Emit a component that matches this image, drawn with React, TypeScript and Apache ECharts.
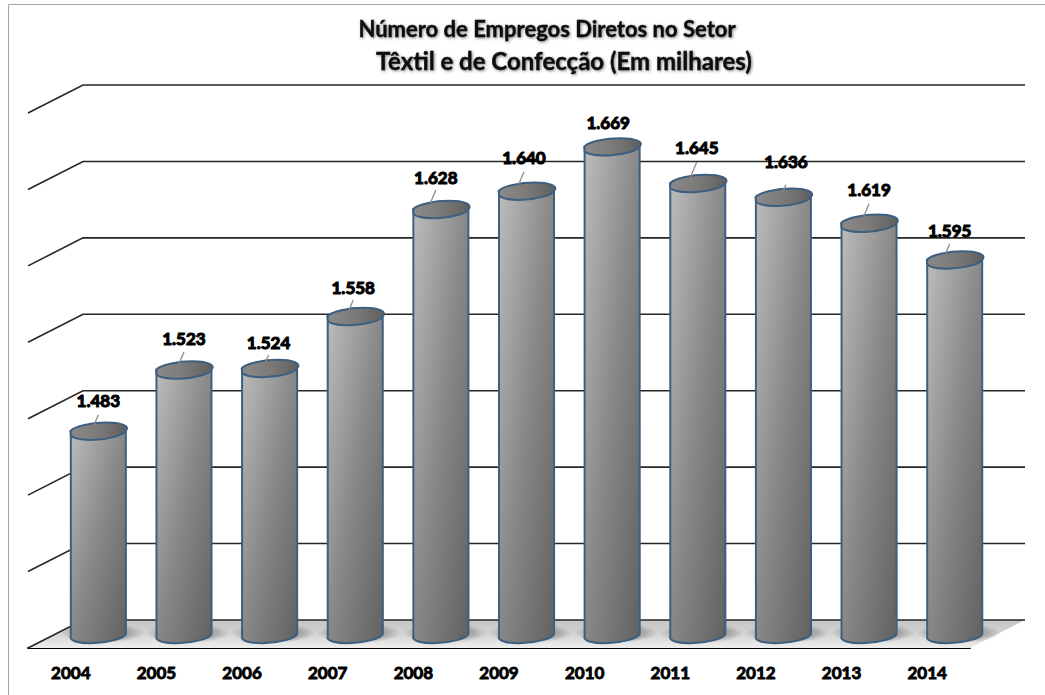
import React, { useEffect, useRef } from "react";
import * as echarts from "echarts";

const years = ["2004", "2005", "2006", "2007", "2008", "2009", "2010", "2011", "2012", "2013", "2014"];
const jobs = [1483, 1523, 1524, 1558, 1628, 1640, 1669, 1645, 1636, 1619, 1595];
const axisTicks = [1350, 1400, 1450, 1500, 1550, 1600, 1650, 1700];
const titleLineOne = "Número de Empregos Diretos no Setor";
const titleLineTwo = "Têxtil e de Confecção (Em milhares)";

// Hand placement of the value labels, relative to each cylinder's top.
const labelDx = [0, 0, -1, -2, -5, -2.5, -4, -1, 2.5, 0, -5];
const labelDy = [-30, -31.5, -26, -29, -32, -33, -24, -36, -35, -33, -29.5];
// Gap between label centre and start of its leader line; 0 = no leader line.
const leaderGap = [14, 14, 13, 13, 13, 14, 0, 15, 23, 14, 14];

const FONT = "Lato, Carlito, 'Open Sans', sans-serif";
const DEPTH_X = 55;
const DEPTH_Y = 28;
const WALL_RIGHT = 1025;
const RX = 27.5;
const RY = 7.5;
const TILT = 2.5;

const fmt = (v: number) => `${Math.floor(v / 1000)}.${String(v % 1000).padStart(3, "0")}`;

function ellipseArc(x: number, y: number, sweep: number) {
  return `A ${RX + 0.1} ${RY} -5.2 0 ${sweep} ${x} ${y}`;
}

const titleStyle = (fontSize: number) => ({
  fontFamily: FONT,
  fontSize,
  fontWeight: "bold",
  color: "#0a0a0a",
  textBorderColor: "#0a0a0a",
  textBorderWidth: 0.3,
  textShadowColor: "rgba(0,0,0,0.5)",
  textShadowBlur: 3,
  textShadowOffsetX: 1,
  textShadowOffsetY: 1,
});

export default function App() {
  const ref = useRef<HTMLDivElement>(null);
  useEffect(() => {
    const chart = echarts.init(ref.current!, undefined, { renderer: "svg" });
    chart.setOption({
      animation: false,
      backgroundColor: "#ffffff",
      title: [
        { text: titleLineOne, left: 542, top: 12, textAlign: "center", textStyle: titleStyle(22) },
        { text: titleLineTwo, left: 559, top: 43, textAlign: "center", textStyle: titleStyle(24) },
      ],
      graphic: [
        {
          type: "rect",
          z: -10,
          shape: { x: 8.5, y: 4.5, width: 1100, height: 800 },
          style: { fill: "none", stroke: "#a6a6a6", lineWidth: 1 },
        },
      ],
      grid: { left: 28, top: 113, width: 942, height: 535 },
      xAxis: {
        type: "category",
        data: years,
        axisTick: { show: false },
        axisLine: { show: true, lineStyle: { color: "#000000", width: 2 } },
        axisLabel: {
          margin: 16,
          fontFamily: FONT,
          fontSize: 17,
          fontWeight: "bold",
          color: "#000000",
          textBorderColor: "#000000",
          textBorderWidth: 0.9,
        },
        splitLine: { show: false },
      },
      yAxis: {
        type: "value",
        min: 1350,
        max: 1700,
        interval: 50,
        axisLabel: { show: false },
        axisLine: { show: false },
        axisTick: { show: false },
        splitLine: { show: false },
      },
      series: [
        {
          type: "custom",
          name: "piso",
          z: 1,
          silent: true,
          encode: { x: 0, y: 1 },
          data: [[0, axisTicks[0]]],
          renderItem: (_p: any, api: any) => {
            const [, y] = api.coord([0, axisTicks[0]]);
            const size = api.size([1, 0]);
            const left = api.coord([0, axisTicks[0]])[0] - size[0] / 2;
            const right = left + size[0] * years.length;
            return {
              type: "polygon",
              shape: {
                points: [
                  [left, y],
                  [right, y],
                  [right + DEPTH_X, y - DEPTH_Y],
                  [left + DEPTH_X, y - DEPTH_Y],
                ],
              },
              style: {
                fill: new echarts.graphic.LinearGradient(0, 0, 0, 1, [
                  { offset: 0, color: "#c4c4c4" },
                  { offset: 0.55, color: "#d6d6d6" },
                  { offset: 1, color: "#efefef" },
                ]),
              },
            };
          },
        },
        {
          type: "custom",
          name: "sombra",
          z: 2,
          silent: true,
          encode: { x: 0, y: 1 },
          data: jobs.map((_, i) => [i, axisTicks[0]]),
          renderItem: (_p: any, api: any) => {
            const [fx, fy] = api.coord([api.value(0), axisTicks[0]]);
            return {
              type: "ellipse",
              shape: { cx: fx + DEPTH_X / 2 + 4, cy: fy - 15, rx: 42, ry: 10 },
              style: {
                fill: new echarts.graphic.RadialGradient(0.5, 0.5, 0.5, [
                  { offset: 0, color: "rgba(90,90,90,0.6)" },
                  { offset: 0.7, color: "rgba(110,110,110,0.4)" },
                  { offset: 1, color: "rgba(130,130,130,0)" },
                ]),
              },
            };
          },
        },
        {
          type: "custom",
          name: "grade",
          z: 3,
          silent: true,
          encode: { x: 0, y: 1 },
          data: axisTicks.map((t) => [0, t]),
          renderItem: (_p: any, api: any) => {
            const [cx, y] = api.coord([0, api.value(1)]);
            const left = cx - api.size([1, 0])[0] / 2;
            return {
              type: "polyline",
              shape: {
                points: [
                  [left, y],
                  [left + DEPTH_X, y - DEPTH_Y],
                  [WALL_RIGHT, y - DEPTH_Y],
                ],
              },
              style: { fill: "none", stroke: "#262626", lineWidth: 1.6 },
            };
          },
        },
        {
          type: "custom",
          name: "Empregos",
          z: 5,
          encode: { x: 0, y: 1 },
          data: jobs.map((v, i) => [i, v]),
          renderItem: (_p: any, api: any) => {
            const i = api.value(0);
            const v = api.value(1);
            const [fx, fy] = api.coord([i, v]);
            const [, baseFy] = api.coord([i, axisTicks[0]]);
            const cx = fx + DEPTH_X / 2;
            const top = fy - DEPTH_Y / 2;
            const base = baseFy - DEPTH_Y / 2;
            const xl = cx - RX;
            const xr = cx + RX;
            const body = [
              `M ${xl} ${top + TILT}`,
              `L ${xl} ${base + TILT}`,
              ellipseArc(xr, base - TILT, 0),
              `L ${xr} ${top - TILT}`,
              ellipseArc(xl, top + TILT, 1),
              "Z",
            ].join(" ");
            const cap = [
              `M ${xl} ${top + TILT}`,
              ellipseArc(xr, top - TILT, 0),
              ellipseArc(xl, top + TILT, 0),
              "Z",
            ].join(" ");
            const lx = cx + labelDx[i];
            const ly = top + labelDy[i];
            const children: any[] = [
              {
                type: "path",
                shape: { pathData: body },
                style: {
                  fill: new echarts.graphic.LinearGradient(0, 0, 1, 1, [
                    { offset: 0, color: "#bdbdbd" },
                    { offset: 0.5, color: "#888888" },
                    { offset: 1, color: "#616161" },
                  ]),
                  stroke: "#3d5f80",
                  lineWidth: 2,
                },
              },
              {
                type: "path",
                shape: { pathData: cap },
                style: {
                  fill: new echarts.graphic.LinearGradient(0, 0, 1, 0, [
                    { offset: 0, color: "#8a8a8a" },
                    { offset: 0.5, color: "#7c7a78" },
                    { offset: 1, color: "#5f5f5f" },
                  ]),
                  stroke: "#3d5f80",
                  lineWidth: 2,
                },
              },
            ];
            if (leaderGap[i] > 0) {
              const y0 = ly + leaderGap[i];
              const y1 = top - 6;
              children.push({
                type: "line",
                shape: { x1: lx, y1: y0, x2: lx - (y1 - y0) * 0.42, y2: y1 },
                style: { stroke: "#8c8c8c", lineWidth: 1.3 },
              });
            }
            children.push({
              type: "text",
              style: {
                text: fmt(v),
                x: lx,
                y: ly,
                align: "center",
                verticalAlign: "middle",
                fontFamily: FONT,
                fontSize: 17,
                fontWeight: "bold",
                fill: "#000000",
                stroke: "#000000",
                lineWidth: 1.1,
                shadowBlur: 2,
                shadowColor: "rgba(0,0,0,0.5)",
              },
            });
            return { type: "group", children };
          },
        },
      ],
    });
    return () => chart.dispose();
  }, []);
  return (
    <div
      ref={ref}
      style={{ position: "fixed", left: 0, top: 0, width: 1045, height: 695 }}
    />
  );
}
